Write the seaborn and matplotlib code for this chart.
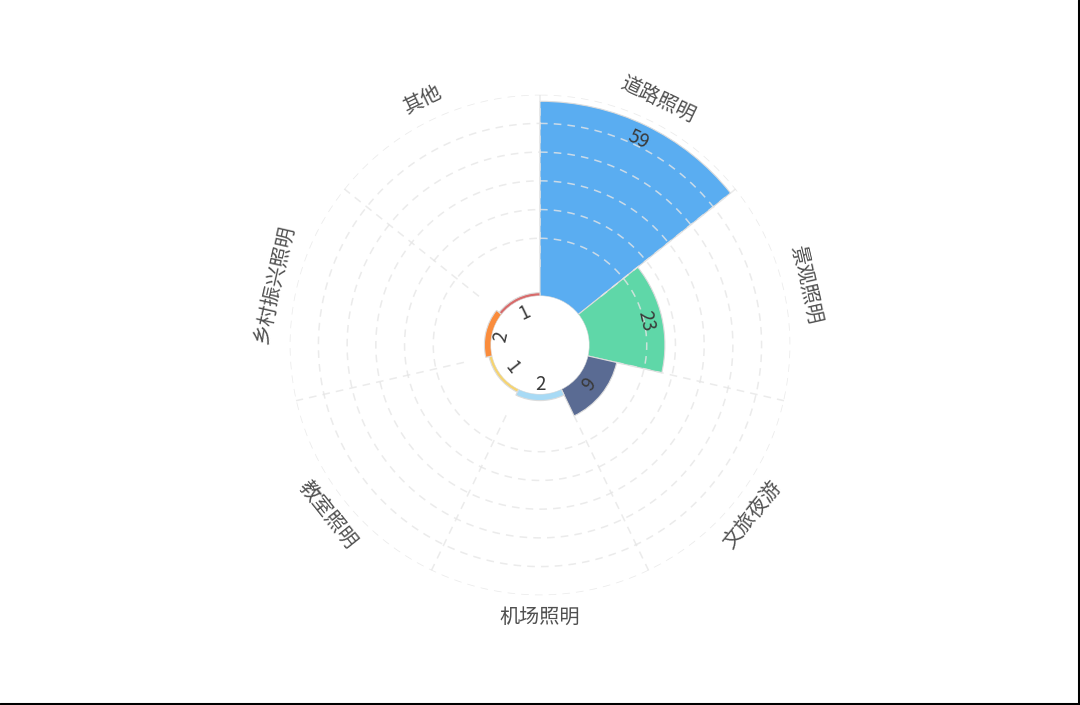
import numpy as np
import matplotlib.pyplot as plt
import seaborn as sns
from matplotlib.lines import Line2D

# =========================
# DATA
# =========================
categories = ['道路照明', '景观照明', '文旅夜游', '机场照明', '教室照明', '乡村振兴照明', '其他']
values = [59, 23, 9, 2, 1, 2, 1]
colors = ['#5aadf1', '#5fd7a8', '#5a6b93', '#a8daf5', '#f6d46f', '#fa8c3c', '#d86a6a']

# =========================
# STYLE
# =========================
sns.set_theme(style='white')
plt.rcParams['font.family'] = ['Noto Sans CJK SC', 'DejaVu Sans']

W, H = 1080, 705
fig = plt.figure(figsize=(W / 100, H / 100), dpi=100)

# polar geometry in pixels (centre, hole, outer ring)
cx, cy = 540, 345
hole_px = 49
px_per_unit = 3.3
r_max = 61.0
r_origin = hole_px / px_per_unit
outer_px = (r_max + r_origin) * px_per_unit

ax = fig.add_axes([(cx - outer_px) / W, (H - cy - outer_px) / H,
                   2 * outer_px / W, 2 * outer_px / H], projection='polar')
ax.set_theta_zero_location('N')
ax.set_theta_direction(-1)
ax.set_ylim(0, r_max)
ax.set_rorigin(-r_origin)
ax.axis('off')

n = len(categories)
width = 2 * np.pi / n
theta = np.arange(n) * width + width / 2

ax.bar(theta, values, width=width, bottom=0, color=colors,
       edgecolor='#dcdcdc', linewidth=0.8, zorder=2)

# dashed grid drawn over the bars
grid_col = (0.9, 0.9, 0.9, 0.8)
ring_start = 8.8
rings = np.linspace(ring_start, r_max, 7)[1:]
tt = np.linspace(0, 2 * np.pi, 400)
for r in rings:
    ax.plot(tt, np.full_like(tt, r), color=grid_col, lw=1.1,
            ls=(0, (5, 4)), zorder=3)
for k in range(n):
    ax.plot([k * width, k * width], [ring_start, r_max], color=grid_col,
            lw=1.1, ls=(0, (5, 4)), zorder=3)


def tangent_rotation(deg):
    if 90 < deg <= 270:
        return 180 - deg
    return 360 - deg if deg > 270 else -deg


# category labels
label_r = (272 - hole_px) / px_per_unit
for t, name in zip(theta, categories):
    deg = np.degrees(t)
    ax.text(t, label_r, name, ha='center', va='center', fontsize=14.5,
            color='#505050', rotation=tangent_rotation(deg),
            rotation_mode='anchor')

# value labels inside the bar ends
offset = 16 / px_per_unit
for t, v in zip(theta, values):
    deg = np.degrees(t)
    ax.text(t, v - offset, str(v), ha='center', va='center', fontsize=13.5,
            color='#3a3a3a', rotation=tangent_rotation(deg),
            rotation_mode='anchor', zorder=4)

# thin dark frame on the right and bottom edges
fig.add_artist(Line2D([0, 1], [0.002, 0.002], color='black', lw=2.2,
                      transform=fig.transFigure))
fig.add_artist(Line2D([0.999, 0.999], [0, 1], color='black', lw=2.2,
                      transform=fig.transFigure))

fig.savefig('out.png', dpi=100, facecolor='white')
